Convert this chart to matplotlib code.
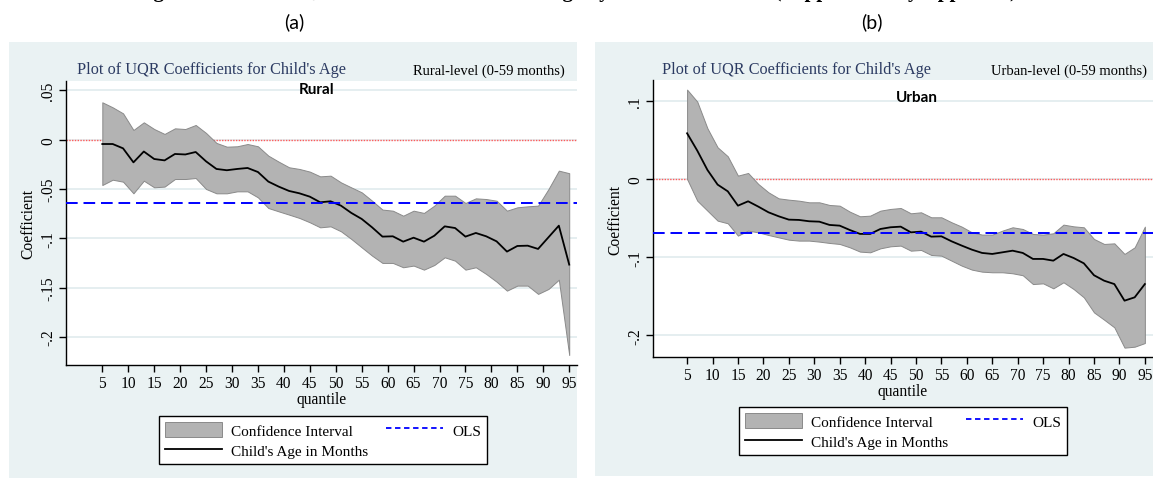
import numpy as np
import matplotlib
matplotlib.use('Agg')
import matplotlib.pyplot as plt
from matplotlib.patches import Rectangle, Patch
from matplotlib.lines import Line2D

W, H = 1153, 481

# quantiles 5,7,...,95
quantiles = list(range(5, 96, 2))

rural_coef = [-0.0044, -0.0044, -0.0088, -0.0230, -0.0120, -0.0196, -0.0210, -0.0145, -0.0150, -0.0125,
              -0.0220, -0.0297, -0.0310, -0.0297, -0.0287, -0.0328, -0.0425, -0.0476, -0.0520, -0.0544,
              -0.0578, -0.0635, -0.0625, -0.0669, -0.0743, -0.0804, -0.0889, -0.0983, -0.0980, -0.1034,
              -0.0994, -0.1034, -0.0974, -0.0879, -0.0896, -0.0983, -0.0946, -0.0980, -0.1031, -0.1135,
              -0.1078, -0.1075, -0.1108, -0.0990, -0.0872, -0.1267]
rural_hi = [0.0379, 0.0328, 0.0267, 0.0098, 0.0176, 0.0108, 0.0058, 0.0115, 0.0108, 0.0149,
            0.0068, -0.0033, -0.0071, -0.0067, -0.0044, -0.0067, -0.0162, -0.0223, -0.0280, -0.0297,
            -0.0324, -0.0372, -0.0365, -0.0433, -0.0484, -0.0534, -0.0619, -0.0709, -0.0720, -0.0771,
            -0.0720, -0.0743, -0.0669, -0.0568, -0.0568, -0.0642, -0.0595, -0.0602, -0.0619, -0.0720,
            -0.0686, -0.0676, -0.0669, -0.0501, -0.0314, -0.0340]
rural_lo = [-0.0460, -0.0406, -0.0426, -0.0544, -0.0416, -0.0483, -0.0476, -0.0399, -0.0399, -0.0389,
            -0.0500, -0.0544, -0.0544, -0.0524, -0.0524, -0.0585, -0.0693, -0.0727, -0.0760, -0.0794,
            -0.0838, -0.0889, -0.0879, -0.0929, -0.1007, -0.1092, -0.1176, -0.1250, -0.1250, -0.1294,
            -0.1277, -0.1318, -0.1271, -0.1193, -0.1227, -0.1318, -0.1294, -0.1362, -0.1440, -0.1531,
            -0.1480, -0.1480, -0.1564, -0.1514, -0.1420, -0.2184]
rural_ols = -0.0642

urban_coef = [0.0590, 0.0368, 0.0120, -0.0068, -0.0154, -0.0338, -0.0282, -0.0350, -0.0423, -0.0474,
              -0.0517, -0.0521, -0.0538, -0.0543, -0.0585, -0.0594, -0.0650, -0.0700, -0.0700, -0.0637,
              -0.0615, -0.0607, -0.0680, -0.0671, -0.0735, -0.0731, -0.0795, -0.0850, -0.0902, -0.0944,
              -0.0957, -0.0936, -0.0915, -0.0944, -0.1021, -0.1021, -0.1043, -0.0957, -0.1009, -0.1077,
              -0.1230, -0.1300, -0.1343, -0.1556, -0.1513, -0.1343]
urban_hi = [0.1150, 0.0996, 0.0654, 0.0410, 0.0295, 0.0047, 0.0081, -0.0060, -0.0167, -0.0244,
            -0.0261, -0.0274, -0.0295, -0.0295, -0.0329, -0.0338, -0.0415, -0.0474, -0.0466, -0.0402,
            -0.0380, -0.0368, -0.0436, -0.0423, -0.0487, -0.0487, -0.0551, -0.0607, -0.0680, -0.0709,
            -0.0709, -0.0658, -0.0615, -0.0637, -0.0701, -0.0709, -0.0692, -0.0581, -0.0603, -0.0615,
            -0.0765, -0.0829, -0.0821, -0.0957, -0.0872, -0.0607]
urban_lo = [0.0004, -0.0274, -0.0402, -0.0530, -0.0564, -0.0722, -0.0658, -0.0680, -0.0714, -0.0744,
            -0.0774, -0.0786, -0.0786, -0.0799, -0.0816, -0.0829, -0.0872, -0.0927, -0.0936, -0.0885,
            -0.0859, -0.0850, -0.0915, -0.0906, -0.0970, -0.0979, -0.1043, -0.1107, -0.1158, -0.1184,
            -0.1192, -0.1192, -0.1205, -0.1230, -0.1343, -0.1334, -0.1398, -0.1320, -0.1407, -0.1513,
            -0.1706, -0.1800, -0.1898, -0.2158, -0.2146, -0.2099]
urban_ols = -0.0688

x_ticks = list(range(5, 96, 5))
rural_yticks = [0.05, 0, -0.05, -0.1, -0.15, -0.2]
rural_ylabels = ['.05', '0', '-.05', '-.1', '-.15', '-.2']
urban_yticks = [0.1, 0, -0.1, -0.2]
urban_ylabels = ['.1', '0', '-.1', '-.2']

BG = '#eaf2f3'
GRID = '#e3edef'
TITLE_C = '#2c3b62'
SERIF = 'Liberation Serif'
SANS = 'Lato'
FS = 11.2


def fx(px):
    return px / W


def fy(py):
    return 1 - py / H


fig = plt.figure(figsize=(W / 100, H / 100), dpi=100)

# caption that is cut off at the top edge of the picture
fig.text(fx(576), fy(-3), "Figure 3: Plot of UQR Coefficients for Child's Age by Rural and Urban (Supplementary Appendix)",
         ha='center', va='baseline', fontsize=15, fontweight='bold', family=SERIF)


def draw_panel(bg, box, xlim, ylim, coef, lo, hi, ols, yticks, ylabels,
               sub, sub_right, area, area_xy, tag, tag_x, leg_center, title_x):
    # graph region background
    fig.add_artist(Rectangle((fx(bg[0]), fy(bg[3])), fx(bg[2] - bg[0]), (bg[3] - bg[1]) / H,
                             transform=fig.transFigure, facecolor=BG, edgecolor='none', zorder=0))
    l, t, r, b = box
    ax = fig.add_axes([fx(l), fy(b), fx(r - l), (b - t) / H])
    ax.set_facecolor('white')
    ax.set_xlim(*xlim)
    ax.set_ylim(*ylim)
    for s in ['top', 'right']:
        ax.spines[s].set_visible(False)
    for s in ['left', 'bottom']:
        ax.spines[s].set_linewidth(1.0)
    ax.set_yticks(yticks)
    ax.set_yticklabels(ylabels, rotation=90, va='center', fontsize=FS, family=SERIF)
    ax.set_xticks(x_ticks)
    ax.set_xticklabels([str(v) for v in x_ticks], fontsize=FS, family=SERIF)
    ax.tick_params(axis='both', length=5, width=1, direction='out', pad=2)
    for y in yticks:
        ax.axhline(y, color=GRID, lw=1.3, zorder=0)
    ax.axhline(0, color='#ff5a5a', lw=1.0, ls=(0, (1, 1)), zorder=1)
    ax.fill_between(quantiles, lo, hi, facecolor='#b3b3b3', edgecolor='#8a8a8a', lw=0.7, zorder=2)
    ax.plot(quantiles, coef, color='black', lw=1.3, zorder=3)
    ax.axhline(ols, color='#0000ff', lw=1.4, ls=(0, (6, 3)), zorder=4)
    ax.set_xlabel('quantile', fontsize=FS, family=SERIF, labelpad=0)
    ax.set_ylabel('Coefficient', fontsize=FS, family=SERIF, labelpad=3)

    fig.text(fx(title_x), fy(70), "Plot of UQR Coefficients for Child's Age", ha='left', va='center',
             fontsize=11.7, family=SERIF, color=TITLE_C)
    fig.text(fx(sub_right), fy(71), sub, ha='right', va='center', fontsize=10.5, family=SERIF, color='black')
    fig.text(fx(area_xy[0]), fy(area_xy[1]), area, ha='center', va='center', fontsize=11,
             fontweight='bold', family=SANS)
    fig.text(fx(tag_x), fy(22), tag, ha='center', va='center', fontsize=14, family=SANS)

    handles = [Patch(facecolor='#b3b3b3', edgecolor='#8a8a8a', lw=0.7, label='Confidence Interval'),
               Line2D([], [], color='black', lw=1.3, label="Child's Age in Months"),
               Line2D([], [], color='#0000ff', lw=1.3, ls=(0, (3, 2)), label='OLS')]
    leg = fig.legend(handles=handles, ncol=2, loc='center', bbox_to_anchor=(fx(leg_center[0]), fy(leg_center[1])),
                     fancybox=False, edgecolor='black', framealpha=1, handlelength=3.7, handleheight=1.1,
                     columnspacing=1.2, labelspacing=0.3, borderpad=0.4, handletextpad=0.6,
                     prop={'family': SERIF, 'size': 11})
    leg.get_frame().set_linewidth(1.0)
    return ax


draw_panel((9, 43, 577, 479), (66, 82, 577, 366), (-2, 96.5), (-0.2285, 0.0595),
           rural_coef, rural_lo, rural_hi, rural_ols, rural_yticks, rural_ylabels,
           'Rural-level (0-59 months)', 565, 'Rural', (317, 90), '(a)', 294, (323, 441), 77)

draw_panel((595, 43, 1153, 477), (653, 81, 1153, 358), (-1.7, 96.6), (-0.2278, 0.1273),
           urban_coef, urban_lo, urban_hi, urban_ols, urban_yticks, urban_ylabels,
           'Urban-level (0-59 months)', 1147, 'Urban', (917, 98), '(b)', 872, (903, 432), 662)

plt.savefig('out.png', dpi=100)
